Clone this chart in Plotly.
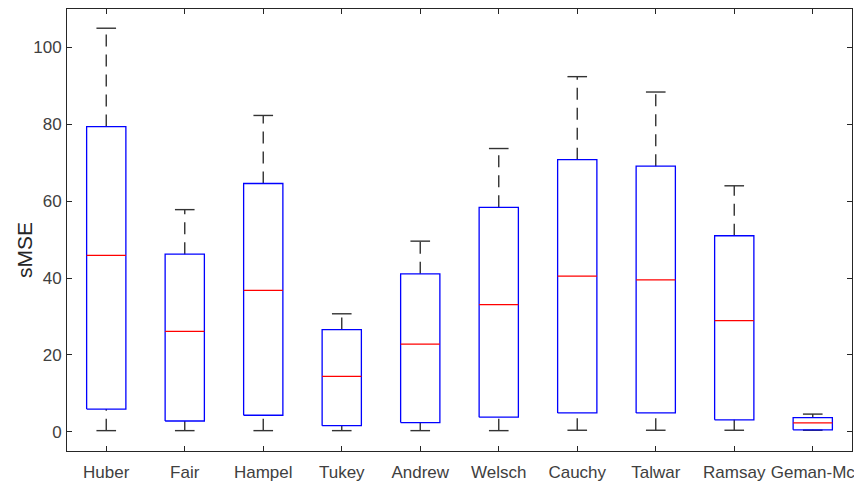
import plotly.graph_objects as go

categories = ["Huber", "Fair", "Hampel", "Tukey", "Andrew", "Welsch",
              "Cauchy", "Talwar", "Ramsay", "Geman-Mc"]
lower_whisker = [0.3, 0.3, 0.3, 0.3, 0.3, 0.3, 0.4, 0.4, 0.4, 0.4]
q1 = [5.9, 2.8, 4.3, 1.6, 2.4, 3.8, 4.9, 4.9, 3.1, 0.5]
median = [45.9, 26.1, 36.8, 14.4, 22.8, 33.1, 40.5, 39.5, 28.9, 2.3]
q3 = [79.4, 46.2, 64.6, 26.6, 41.1, 58.4, 70.8, 69.1, 51.0, 3.7]
upper_whisker = [105.0, 57.8, 82.3, 30.7, 49.6, 73.7, 92.4, 88.4, 64.0, 4.6]
y_ticks = [0, 20, 40, 60, 80, 100]

box_half = 0.25
cap_half = 0.125
positions = list(range(1, len(categories) + 1))

wx, wy = [], []
cx, cy = [], []
bx, by = [], []
mx, my = [], []
for p, lo, a, m, b, hi in zip(positions, lower_whisker, q1, median, q3, upper_whisker):
    # whiskers (drawn bottom to top)
    wx += [p, p, None, p, p, None]
    wy += [lo, a, None, b, hi, None]
    # caps
    cx += [p - cap_half, p + cap_half, None, p - cap_half, p + cap_half, None]
    cy += [lo, lo, None, hi, hi, None]
    # box
    bx += [p - box_half, p + box_half, p + box_half, p - box_half, p - box_half, None]
    by += [a, a, b, b, a, None]
    # median
    mx += [p - box_half, p + box_half, None]
    my += [m, m, None]

fig = go.Figure()
fig.add_trace(go.Scatter(x=wx, y=wy, mode="lines", hoverinfo="skip",
                         line=dict(color="#333333", width=1.4, dash="12px,8px")))
fig.add_trace(go.Scatter(x=cx, y=cy, mode="lines", hoverinfo="skip",
                         line=dict(color="#333333", width=1.4)))
fig.add_trace(go.Scatter(x=bx, y=by, mode="lines", hoverinfo="skip",
                         line=dict(color="#0000ff", width=1.3)))
fig.add_trace(go.Scatter(x=mx, y=my, mode="lines", hoverinfo="skip",
                         line=dict(color="#ff0000", width=1.3)))

axis_common = dict(showline=True, linecolor="#262626", linewidth=1,
                   mirror="ticks", ticks="inside", ticklen=5, tickcolor="#262626",
                   tickwidth=1, showgrid=False, zeroline=False,
                   tickfont=dict(family="Liberation Sans, Arial", size=17, color="#404040"))

fig.update_layout(
    width=854, height=481,
    margin=dict(l=67, r=2, t=9, b=30, autoexpand=False),
    paper_bgcolor="white", plot_bgcolor="white",
    showlegend=False,
    xaxis=dict(range=[0.5, 10.5], tickmode="array", tickvals=positions,
               ticktext=categories, automargin=False, tickangle=0,
               ticklabeloverflow="allow", ticklabelstandoff=6, **axis_common),
    yaxis=dict(range=[-5, 110], tickmode="array", tickvals=y_ticks,
               automargin=False, ticklabelstandoff=1, **axis_common),
    annotations=[dict(text="sMSE", xref="paper", yref="paper", x=-0.0535, y=0.455,
                      xanchor="center", yanchor="middle", textangle=-90, showarrow=False,
                      font=dict(family="Liberation Sans, Arial", size=21, color="#262626"))],
)

fig.write_html("out.html", config={"displayModeBar": False},
               post_script="document.body.style.margin='0';document.body.style.overflow='hidden';")
